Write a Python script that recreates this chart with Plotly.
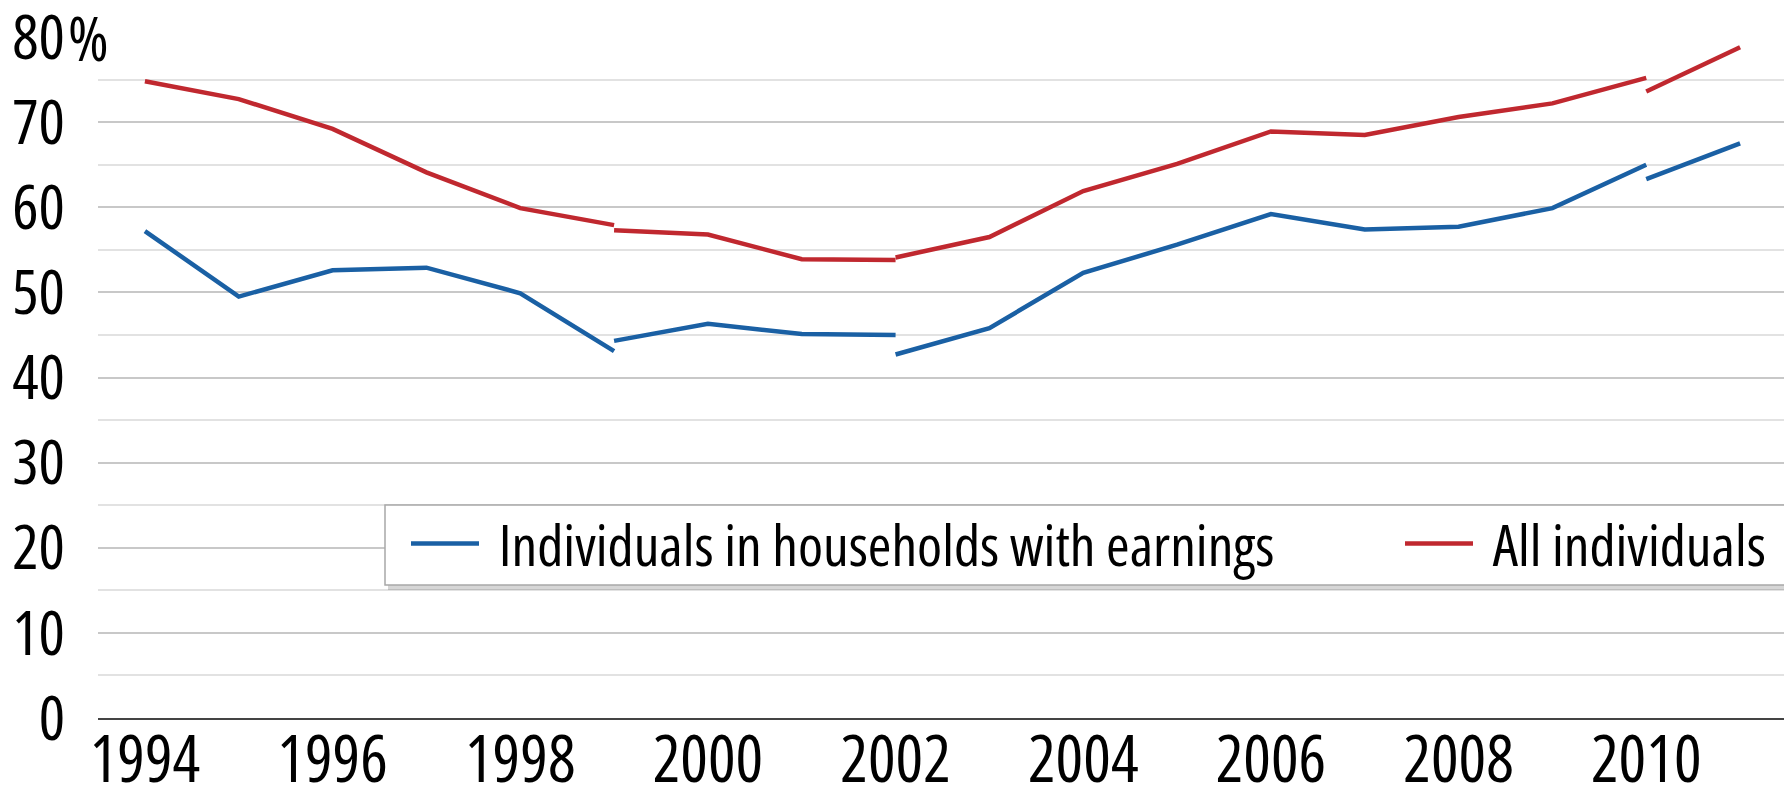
import plotly.graph_objects as go

# Series with break points (None = break in series), x years repeated at breaks
years = [1994, 1995, 1996, 1997, 1998, 1999, None, 1999, 2000, 2001, 2002, None,
         2002, 2003, 2004, 2005, 2006, 2007, 2008, 2009, 2010, None, 2010, 2011]
earnings = [57.2, 49.5, 52.6, 52.9, 49.9, 43.1, None, 44.3, 46.3, 45.1, 45.0, None,
            42.7, 45.8, 52.3, 55.6, 59.2, 57.4, 57.7, 59.9, 65.0, None, 63.3, 67.5]
all_ind = [74.8, 72.7, 69.2, 64.1, 59.9, 57.9, None, 57.3, 56.8, 53.9, 53.8, None,
           54.1, 56.5, 61.9, 65.1, 68.9, 68.5, 70.6, 72.2, 75.2, None, 73.6, 78.8]

x_ticks = [1994, 1996, 1998, 2000, 2002, 2004, 2006, 2008, 2010]
x_ticktext = ["1994", "1996", "1998", "2000", "2002", "2004", "2006", "2008", "2010"]
y_ticks = [0, 10, 20, 30, 40, 50, 60, 70, 80]
y_ticktext = ["0", "10", "20", "30", "40", "50", "60", "70", "80"]
names = ["Individuals in households with earnings", "All individuals"]

FONT = "Open Sans, sans-serif"
FS_X = 65
FS_Y = 62
FS_LEG = 57
BLUE = "#1a60a4"
RED = "#c0282f"


def cond(s):
    return '<span style="font-stretch:condensed">' + s + "</span>"


# plot area in pixels
L, R, T, B = 90, 1779, 29, 710
W, H = R - L, B - T


def px_x(p):
    return (p - L) / W


def px_y(p):
    return (B - p) / H


fig = go.Figure()
fig.add_trace(go.Scatter(x=years, y=earnings, mode="lines", connectgaps=False,
                         name="&nbsp;" + cond(names[0]), legend="legend",
                         line=dict(color=BLUE, width=4.5)))
fig.add_trace(go.Scatter(x=years, y=all_ind, mode="lines", connectgaps=False,
                         name="&nbsp;" + cond(names[1]), legend="legend2",
                         line=dict(color=RED, width=4.5)))

leg_common = dict(orientation="h", yanchor="middle", xanchor="left",
                  bgcolor="rgba(0,0,0,0)", borderwidth=0,
                  font=dict(family=FONT, size=FS_LEG, color="black"),
                  itemwidth=68, itemclick=False, itemdoubleclick=False)

fig.update_layout(
    width=1792, height=786,
    margin=dict(l=L, r=1792 - R, t=T, b=786 - B, autoexpand=False),
    paper_bgcolor="white", plot_bgcolor="white",
    font=dict(family=FONT, size=FS_Y, color="black"),
    showlegend=True,
    legend=dict(x=px_x(398), y=px_y(536), **leg_common),
    legend2=dict(x=px_x(1392), y=px_y(536), **leg_common),
    xaxis=dict(
        range=[1993.5, 2011.5], tickmode="array", tickvals=x_ticks,
        ticktext=[cond(t) for t in x_ticktext],
        showgrid=False, zeroline=False, showline=True, linecolor="#444444",
        linewidth=2, ticks="", ticklabelstandoff=-16, ticklabeloverflow="allow",
        tickfont=dict(family=FONT, size=FS_X, color="black"),
    ),
    yaxis=dict(
        range=[0, 80], tickmode="array", tickvals=y_ticks,
        ticktext=[cond(t) for t in y_ticktext],
        showgrid=True, gridcolor="#c8c8c8", gridwidth=1.5,
        minor=dict(dtick=5, tick0=0, showgrid=True, gridcolor="#e2e2e2", gridwidth=1.5),
        zeroline=False, showline=False, ticks="", ticklabelstandoff=32,
        ticklabeloverflow="allow",
        tickfont=dict(family=FONT, size=FS_Y, color="black"),
    ),
)

# legend box with drop shadow
fig.add_shape(type="rect", xref="paper", yref="paper",
              x0=px_x(380), x1=px_x(1787), y0=px_y(582), y1=px_y(501),
              fillcolor="rgba(0,0,0,0.16)", line=dict(width=0), layer="above")
fig.add_shape(type="rect", xref="paper", yref="paper",
              x0=px_x(377), x1=px_x(1783), y0=px_y(577), y1=px_y(497),
              fillcolor="white", line=dict(color="#a8a8a8", width=1.5), layer="above")

# "%" after the top label, and white patch hiding the gridline behind it
fig.add_shape(type="rect", xref="paper", yref="y", x0=0, x1=px_x(120), y0=79.6, y1=80.4,
              fillcolor="white", line=dict(width=0), layer="above")
fig.add_annotation(xref="paper", yref="y", x=px_x(59), y=80, text=cond("%"), showarrow=False,
                   xanchor="left", yanchor="middle", borderpad=0,
                   font=dict(family=FONT, size=FS_Y, color="black"))

fig.write_html("out.html")
